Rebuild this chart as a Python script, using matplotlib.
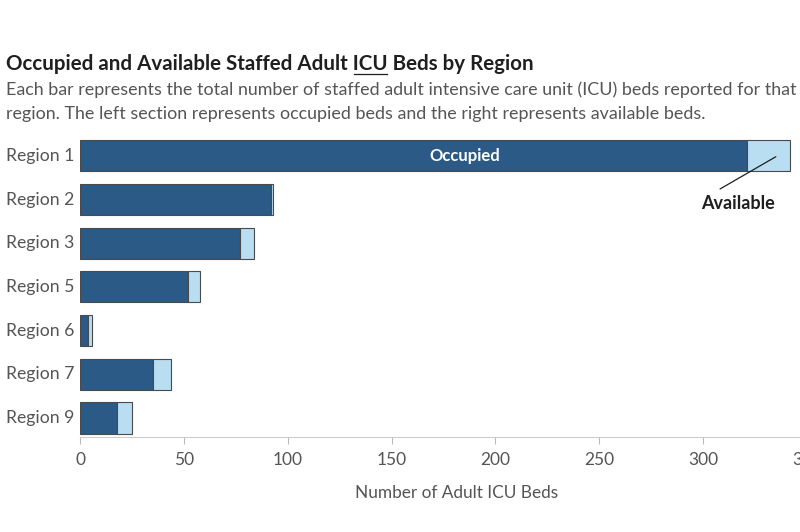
import numpy as np
import matplotlib
matplotlib.use("Agg")
import matplotlib.pyplot as plt
from matplotlib.transforms import blended_transform_factory

plt.rcParams["font.family"] = ["Lato", "DejaVu Sans"]

regions = ["Region 1", "Region 2", "Region 3", "Region 5", "Region 6", "Region 7", "Region 9"]
occupied = [321, 92, 77, 52, 4, 35, 18]
available = [21, 1, 7, 6, 2, 9, 7]
ticks = [0, 50, 100, 150, 200, 250, 300, 350]

DARK, LIGHT = "#2b5a86", "#b9ddf1"
EDGE, INK, GREY = "#4a4a4a", "#1f1f1f", "#555555"

fig = plt.figure(figsize=(8, 5.32), dpi=100)
fig.patch.set_facecolor("white")
# the view is cut at the right edge, so the axes run past the figure
ax = fig.add_axes([80 / 800, 1 - 437 / 532, 727 / 800, (437 - 134) / 532])

y = np.arange(len(regions))
occ = np.array(occupied)
avl = np.array(available)
ax.barh(y, occ, height=0.71, color=DARK, edgecolor=EDGE, linewidth=0.8)
ax.barh(y, avl, left=occ, height=0.71, color=LIGHT, edgecolor=EDGE, linewidth=0.8)

ax.set_xlim(0, 350)
ax.set_ylim(6.435, -0.5)
ax.set_xticks(ticks)
ax.set_xticklabels([str(t) for t in ticks], fontsize=12.5, color=GREY)
ax.tick_params(axis="x", length=5, color="#bbbbbb", pad=6)
ax.set_yticks([])
for s in ("top", "right", "left"):
    ax.spines[s].set_visible(False)
ax.spines["bottom"].set_color("#cccccc")

trans = blended_transform_factory(fig.transFigure, ax.transData)
for i, r in enumerate(regions):
    ax.text(6 / 800, i, r, transform=trans, ha="left", va="center", fontsize=12.7, color=GREY)

ax.set_xlabel("Number of Adult ICU Beds", fontsize=12.4, color=GREY)
ax.xaxis.set_label_coords((457 - 80) / 727, -0.158)

ax.text(185, 0, "Occupied", ha="center", va="center", color="white", fontsize=12, fontweight="bold")
ax.annotate("Available", xy=(335, 0.02), xytext=(317, 1.08), ha="center", va="center",
            fontsize=13, fontweight="bold", color=INK,
            arrowprops=dict(arrowstyle="-", color=INK, lw=0.9, shrinkB=0, shrinkA=4,
                            relpos=(0.12, 1)))

# title with underlined abbreviation
pre = "Occupied and Available Staffed Adult "
TS = 14.8
fig.text(6 / 800, 1 - 64 / 532, pre + "ICU Beds by Region", fontsize=TS, fontweight="bold",
         color=INK, va="center")
r = fig.canvas.get_renderer()
tmp = fig.text(6 / 800, 0.5, pre, fontsize=TS, fontweight="bold")
w0 = tmp.get_window_extent(r).width
tmp.set_text(pre + "ICU")
w1 = tmp.get_window_extent(r).width
tmp.remove()
x0 = (6 + w0 + 1) / 800
x1 = (6 + w1 - 1) / 800
fig.add_artist(plt.Line2D([x0, x1], [1 - 74 / 532] * 2, color=INK, lw=0.9, transform=fig.transFigure))

fig.text(6 / 800, 1 - 90 / 532,
         "Each bar represents the total number of staffed adult intensive care unit (ICU) beds reported for that",
         fontsize=12.9, color=GREY, va="center")
fig.text(6 / 800, 1 - 114 / 532,
         "region. The left section represents occupied beds and the right represents available beds.",
         fontsize=12.9, color=GREY, va="center")

fig.savefig("out.png", dpi=100, facecolor="white")
